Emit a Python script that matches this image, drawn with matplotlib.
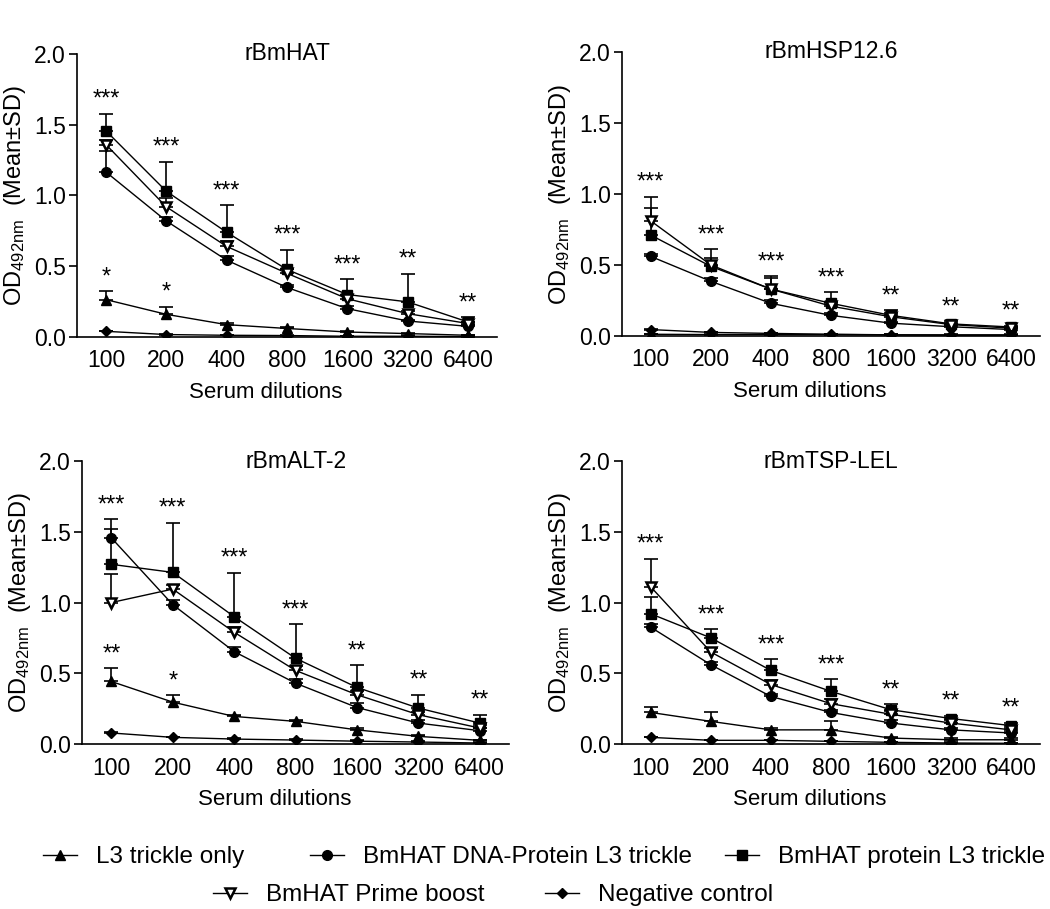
import numpy as np
import matplotlib
matplotlib.use("Agg")
import matplotlib.pyplot as plt
from matplotlib.lines import Line2D

plt.rcParams['font.family'] = ['Liberation Sans', 'DejaVu Sans']
plt.rcParams['mathtext.fontset'] = 'custom'
plt.rcParams['mathtext.rm'] = 'Liberation Sans'
plt.rcParams['mathtext.it'] = 'Liberation Sans:italic'

dilutions = ['100', '200', '400', '800', '1600', '3200', '6400']
antigens = ['rBmHAT', 'rBmHSP12.6', 'rBmALT-2', 'rBmTSP-LEL']
groups = ['L3 trickle only', 'BmHAT DNA-Protein L3 trickle', 'BmHAT protein L3 trickle',
          'BmHAT Prime boost', 'Negative control']

# rBmHAT
hat_l3 = [0.264, 0.16, 0.087, 0.06, 0.035, 0.024, 0.012]
hat_dna = [1.166, 0.82, 0.543, 0.35, 0.20, 0.113, 0.075]
hat_prot = [1.457, 1.03, 0.74, 0.477, 0.30, 0.248, 0.106]
hat_prime = [1.36, 0.92, 0.64, 0.45, 0.27, 0.165, 0.095]
hat_neg = [0.04, 0.017, 0.012, 0.01, 0.005, 0.005, 0.003]
hat_l3_sd = [0.06, 0.055, 0.01, 0.01, 0.005, 0.005, 0.005]
hat_dna_sd = [0.145, 0.03, 0.03, 0.02, 0.02, 0.01, 0.01]
hat_prot_sd = [0.12, 0.21, 0.19, 0.14, 0.11, 0.20, 0.035]
hat_prime_sd = [0.03, 0.06, 0.04, 0.03, 0.03, 0.02, 0.01]
hat_neg_sd = [0.005, 0.005, 0.005, 0.005, 0.005, 0.005, 0.005]
hat_stars = ['***', '***', '***', '***', '***', '**', '**']
hat_l3_stars = ['*', '*', '', '', '', '', '']

# rBmHSP12.6
hsp_l3 = [0.012, 0.01, 0.01, 0.01, 0.008, 0.008, 0.008]
hsp_dna = [0.56, 0.385, 0.23, 0.145, 0.09, 0.065, 0.045]
hsp_prot = [0.71, 0.49, 0.33, 0.23, 0.145, 0.085, 0.063]
hsp_prime = [0.81, 0.50, 0.33, 0.21, 0.135, 0.08, 0.055]
hsp_neg = [0.045, 0.025, 0.018, 0.012, 0.008, 0.005, 0.005]
hsp_l3_sd = [0.005, 0.005, 0.005, 0.005, 0.005, 0.005, 0.005]
hsp_dna_sd = [0.02, 0.02, 0.02, 0.02, 0.01, 0.01, 0.01]
hsp_prot_sd = [0.27, 0.12, 0.09, 0.08, 0.035, 0.02, 0.01]
hsp_prime_sd = [0.09, 0.05, 0.08, 0.03, 0.03, 0.01, 0.01]
hsp_neg_sd = [0.005, 0.005, 0.005, 0.005, 0.005, 0.005, 0.005]
hsp_stars = ['***', '***', '***', '***', '**', '**', '**']
hsp_l3_stars = ['', '', '', '', '', '', '']

# rBmALT-2
alt_l3 = [0.442, 0.296, 0.195, 0.16, 0.10, 0.054, 0.026]
alt_dna = [1.457, 0.985, 0.653, 0.43, 0.258, 0.148, 0.094]
alt_prot = [1.27, 1.213, 0.90, 0.606, 0.40, 0.254, 0.148]
alt_prime = [1.0, 1.095, 0.79, 0.52, 0.348, 0.207, 0.113]
alt_neg = [0.078, 0.047, 0.035, 0.028, 0.02, 0.014, 0.007]
alt_l3_sd = [0.094, 0.047, 0.01, 0.01, 0.01, 0.01, 0.005]
alt_dna_sd = [0.13, 0.03, 0.03, 0.03, 0.03, 0.02, 0.02]
alt_prot_sd = [0.25, 0.35, 0.31, 0.24, 0.155, 0.094, 0.06]
alt_prime_sd = [0.20, 0.03, 0.04, 0.03, 0.03, 0.02, 0.02]
alt_neg_sd = [0.005, 0.005, 0.005, 0.005, 0.005, 0.005, 0.005]
alt_stars = ['***', '***', '***', '***', '**', '**', '**']
alt_l3_stars = ['**', '*', '', '', '', '', '']

# rBmTSP-LEL
tsp_l3 = [0.223, 0.16, 0.10, 0.10, 0.042, 0.03, 0.03]
tsp_dna = [0.825, 0.56, 0.336, 0.223, 0.148, 0.10, 0.078]
tsp_prot = [0.92, 0.75, 0.52, 0.372, 0.242, 0.18, 0.13]
tsp_prime = [1.11, 0.65, 0.42, 0.285, 0.21, 0.148, 0.10]
tsp_neg = [0.047, 0.026, 0.026, 0.019, 0.012, 0.007, 0.005]
tsp_l3_sd = [0.037, 0.065, 0.01, 0.06, 0.01, 0.01, 0.01]
tsp_dna_sd = [0.02, 0.02, 0.02, 0.02, 0.02, 0.01, 0.01]
tsp_prot_sd = [0.12, 0.06, 0.08, 0.086, 0.04, 0.02, 0.02]
tsp_prime_sd = [0.20, 0.03, 0.03, 0.03, 0.02, 0.02, 0.01]
tsp_neg_sd = [0.005, 0.005, 0.005, 0.005, 0.005, 0.005, 0.005]
tsp_stars = ['***', '***', '***', '***', '**', '**', '**']
tsp_l3_stars = ['', '', '', '', '', '', '']

panels = [
    ([hat_l3, hat_dna, hat_prot, hat_prime, hat_neg],
     [hat_l3_sd, hat_dna_sd, hat_prot_sd, hat_prime_sd, hat_neg_sd], hat_stars, hat_l3_stars),
    ([hsp_l3, hsp_dna, hsp_prot, hsp_prime, hsp_neg],
     [hsp_l3_sd, hsp_dna_sd, hsp_prot_sd, hsp_prime_sd, hsp_neg_sd], hsp_stars, hsp_l3_stars),
    ([alt_l3, alt_dna, alt_prot, alt_prime, alt_neg],
     [alt_l3_sd, alt_dna_sd, alt_prot_sd, alt_prime_sd, alt_neg_sd], alt_stars, alt_l3_stars),
    ([tsp_l3, tsp_dna, tsp_prot, tsp_prime, tsp_neg],
     [tsp_l3_sd, tsp_dna_sd, tsp_prot_sd, tsp_prime_sd, tsp_neg_sd], tsp_stars, tsp_l3_stars),
]

# marker styles per group
styles = [
    dict(marker='^', ms=7.5, mfc='black', mec='black'),
    dict(marker='o', ms=7, mfc='black', mec='black'),
    dict(marker='s', ms=7, mfc='black', mec='black'),
    dict(marker='v', ms=7.5, mfc='white', mec='black', mew=1.8),
    dict(marker='D', ms=5.5, mfc='black', mec='black'),
]

fig = plt.figure(figsize=(10.5, 9.09), dpi=100)
rects = [
    [0.0733, 0.6293, 0.400, 0.3113],
    [0.5924, 0.6304, 0.398, 0.3124],
    [0.0780, 0.1815, 0.407, 0.3113],
    [0.5924, 0.1815, 0.398, 0.3113],
]

x = np.arange(len(dilutions))
for rect, name, (means, sds, stars, l3_stars) in zip(rects, antigens, panels):
    ax = fig.add_axes(rect)
    for m, s, st in zip(means, sds, styles):
        m = np.array(m)
        s = np.array(s)
        ax.errorbar(x, m, yerr=[np.zeros_like(s), s], fmt='none', ecolor='black',
                    elinewidth=1.2, capsize=5, capthick=1.2, zorder=2)
        ax.plot(x, m, color='black', lw=1.0, zorder=3, **st)
    tops = np.max([np.array(m) + np.array(s) for m, s in zip(means[1:4], sds[1:4])], axis=0)
    for i in range(len(x)):
        if stars[i]:
            ax.annotate(stars[i], (x[i], tops[i]), xytext=(0, 10), textcoords='offset points',
                        ha='center', va='center', fontsize=17)
        if l3_stars[i]:
            ax.annotate(l3_stars[i], (x[i], means[0][i] + sds[0][i]), xytext=(0, 10),
                        textcoords='offset points', ha='center', va='center', fontsize=17)

    ax.set_xlim(-0.48, 6.48)
    ax.set_ylim(0, 2.0)
    ax.set_yticks([0, 0.5, 1.0, 1.5, 2.0])
    ax.set_yticklabels(['0.0', '0.5', '1.0', '1.5', '2.0'])
    ax.set_xticks(x)
    ax.set_xticklabels(dilutions)
    ax.tick_params(axis='y', direction='out', length=6, width=1.2, labelsize=16.5, pad=2)
    ax.tick_params(axis='x', length=0, labelsize=16.5, pad=9)
    for sp in ['top', 'right']:
        ax.spines[sp].set_visible(False)
    for sp in ['left', 'bottom']:
        ax.spines[sp].set_linewidth(1.2)
    ax.text(0.5, 1.0, name, transform=ax.transAxes, ha='center', va='center', fontsize=16.5)
    ax.set_xlabel('Serum dilutions', fontsize=16)
    ax.xaxis.set_label_coords(0.45, -0.16)
    ax.set_ylabel(r'OD$_{\mathrm{492nm}}$  (Mean$\pm$SD)', fontsize=17, labelpad=4)

# legend entries placed one by one
handles = [Line2D([0], [0], color='black', lw=1.0, **st) for st in styles]
legend_pos = [(43, 857), (310, 857), (725, 857), (213, 895), (545, 895)]
for h, lab, (px, py) in zip(handles, groups, legend_pos):
    fig.legend([h], [lab], loc='center left', bbox_to_anchor=(px / 1050, 1 - py / 909),
               frameon=False, fontsize=17.5, handlelength=1.4, handletextpad=0.8,
               borderpad=0, borderaxespad=0)

plt.savefig('out.png', dpi=100)
